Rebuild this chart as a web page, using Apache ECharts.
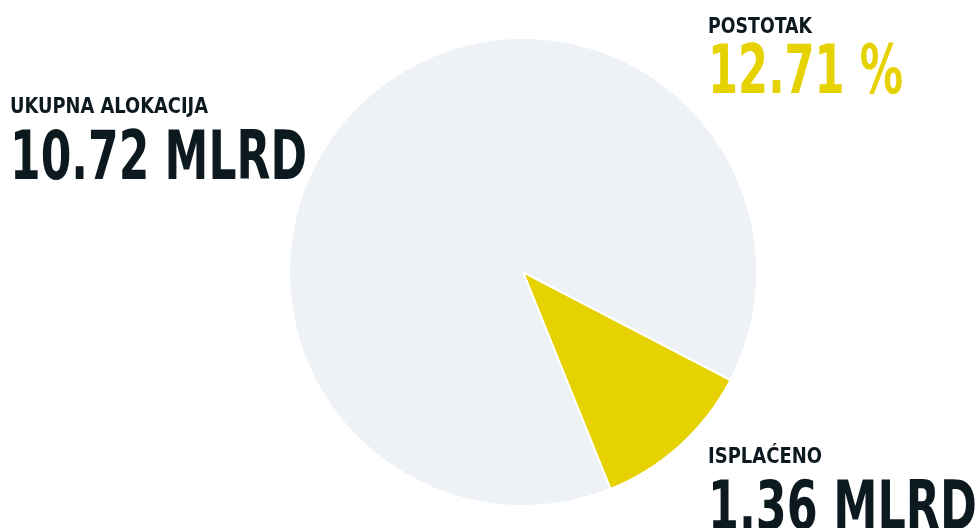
<!DOCTYPE html>
<html>
<head>
<meta charset="utf-8">
<script src="https://cdn.jsdelivr.net/npm/echarts@6/dist/echarts.min.js"></script>
<style>
  html, body { margin: 0; padding: 0; background: #fff; }
  #chart { width: 979px; height: 528px; }
</style>
</head>
<body>
<div id="chart"></div>
<script>
// podaci
const naslovi = ["UKUPNA ALOKACIJA", "ISPLAĆENO"];
const iznosi = [10.72, 1.36]; // mlrd
const jedinica = "MLRD";
const postotakNaslov = "POSTOTAK";
const postotak = 12.71;

const boje = { tamna: "#0c1a20", zuta: "#e6d200", siva: "#eef1f6" };
const obitelj = "'DejaVu Sans Condensed', 'DejaVu Sans', sans-serif";

// uski font se ne može učitati, pa se tekst sabija na širinu iz originala
const mjera = document.createElement("canvas").getContext("2d");

function tekst(text, x, baseline, size, sirina, color) {
  let font = "bold " + size + "px " + obitelj;
  mjera.font = font;
  let w = mjera.measureText(text).width;
  return {
    type: "text",
    x,
    y: baseline - size * 0.77,
    scaleX: sirina / w,
    silent: true,
    style: {
      text,
      font,
      fill: color,
      textAlign: "left",
      textVerticalAlign: "top",
    },
  };
}

let options = {
  animation: false,
  graphic: [
    tekst(naslovi[0], 10, 113, 22, 198, boje.tamna),
    tekst(iznosi[0].toFixed(2) + " " + jedinica, 10, 180, 68, 297, boje.tamna),
    tekst(postotakNaslov, 708, 33, 22, 104, boje.tamna),
    tekst(postotak.toFixed(2) + " %", 708, 94, 68, 195, boje.zuta),
    tekst(naslovi[1], 708, 463, 22, 114, boje.tamna),
    tekst(iznosi[1].toFixed(2) + " " + jedinica, 708, 530, 68, 269, boje.tamna),
  ],
  series: [
    {
      type: "pie",
      center: [523, 272],
      radius: 234,
      startAngle: -27.5,
      clockwise: true,
      silent: true,
      label: { show: false },
      labelLine: { show: false },
      itemStyle: { borderColor: "#fff", borderWidth: 2 },
      data: [
        { name: naslovi[1], value: iznosi[1], itemStyle: { color: boje.zuta } },
        { name: naslovi[0], value: iznosi[0], itemStyle: { color: boje.siva } },
      ],
    },
  ],
};

var chart = echarts.init(document.getElementById("chart"));
chart.setOption(options);
window.addEventListener("resize", function () {
  chart.resize();
});
</script>
</body>
</html>
